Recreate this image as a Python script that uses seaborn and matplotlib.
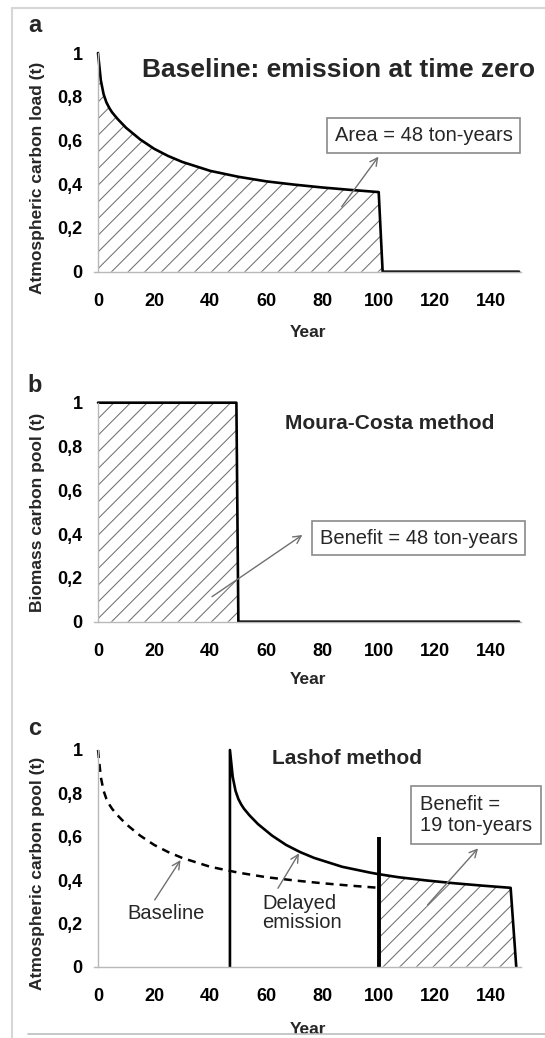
import matplotlib
matplotlib.use("Agg")
import matplotlib.pyplot as plt
import seaborn as sns
import numpy as np
from matplotlib.lines import Line2D

# ---------------- data ----------------
x_ticks = [0, 20, 40, 60, 80, 100, 120, 140]
y_ticks = [0, 0.2, 0.4, 0.6, 0.8, 1.0]
y_tick_labels = ["0", "0,2", "0,4", "0,6", "0,8", "1"]

# (a) baseline: emission at time zero
base_years = [0, 1, 2, 3, 4, 5, 7, 10, 15, 20, 25, 30, 40, 50, 60, 70, 80, 90, 100]
base_load = [1.0, 0.875, 0.811, 0.774, 0.749, 0.729, 0.698, 0.658, 0.605, 0.562,
             0.529, 0.502, 0.461, 0.434, 0.413, 0.398, 0.385, 0.374, 0.364]
base_tail_years = [101.4, 150]
base_tail_load = [0, 0]

# (b) Moura-Costa: biomass pool
biomass_years = [0, 49.3, 50, 150]
biomass_pool = [1, 1, 0, 0]

# (c) Lashof: delayed emission
delayed_years = [47, 47, 48, 49, 50, 51, 52, 54, 57, 62, 67, 72, 77, 87, 97, 100,
                 107, 117, 127, 137, 147, 149]
delayed_pool = [0, 1.0, 0.875, 0.811, 0.774, 0.749, 0.729, 0.698, 0.658, 0.605,
                0.562, 0.529, 0.502, 0.461, 0.434, 0.427, 0.413, 0.398, 0.385,
                0.374, 0.364, 0]
cutoff_year = 100
cutoff_height = 0.6

# ---------------- style ----------------
sns.set_style("white")
plt.rcParams["font.family"] = ["Liberation Sans", "DejaVu Sans"]
plt.rcParams["hatch.color"] = "#707070"
plt.rcParams["hatch.linewidth"] = 0.75

W, H = 545, 1038
fig = plt.figure(figsize=(W / 100, H / 100), dpi=100)

left = 93.8 / W
width = 427.5 / W
ax_a = fig.add_axes([left, 1 - 271.7 / H, width, 218.7 / H])
ax_b = fig.add_axes([left, 1 - 621.7 / H, width, 219.0 / H])
ax_c = fig.add_axes([left, 1 - 966.7 / H, width, 216.7 / H])

AXIS_GRAY = "#b8b8b8"
BOX_EDGE = "#8a8a8a"
ARROW_GRAY = "#707070"
HATCH_GRAY = "#707070"
LW = 1.9
TICK_FS = 13


def style_axis(ax, ylabel, ylab_y, xlab_y):
    ax.set_xlim(-1.5, 150.8)
    ax.set_ylim(0, 1)
    sns.despine(ax=ax)
    for s in ("left", "bottom"):
        ax.spines[s].set_color(AXIS_GRAY)
        ax.spines[s].set_linewidth(1.0)
    ax.spines["left"].set_position(("data", 0))
    ax.set_xticks(x_ticks)
    ax.set_xticklabels([str(t) for t in x_ticks], fontweight="bold")
    ax.set_yticks(y_ticks)
    ax.set_yticklabels(y_tick_labels, fontweight="bold")
    ax.tick_params(axis="x", length=3, width=1, color=AXIS_GRAY, pad=12,
                   labelsize=TICK_FS, labelcolor="black")
    ax.tick_params(axis="y", length=3, width=1, color=AXIS_GRAY, pad=8,
                   labelsize=TICK_FS, labelcolor="black")
    ax.set_ylabel(ylabel, fontsize=12.5, fontweight="bold")
    ax.yaxis.set_label_coords(-0.114, ylab_y)
    ax.set_xlabel("Year", fontsize=12.5, fontweight="bold")
    ax.xaxis.set_label_coords(0.5, xlab_y)
    ax.patch.set_alpha(0)


def arrow(ax, tail, head):
    ax.annotate("", xy=head, xytext=tail,
                arrowprops=dict(arrowstyle="->,head_length=0.55,head_width=0.28",
                                color=ARROW_GRAY, lw=1.0, shrinkA=0, shrinkB=0))


box_kw = dict(boxstyle="square,pad=0.38", fc="white", ec=BOX_EDGE, lw=1.2)

# ---------------- panel a ----------------
a_x = base_years + base_tail_years
a_y = base_load + base_tail_load
ax_a.fill_between(a_x[:-1], a_y[:-1], 0, facecolor="none", edgecolor=HATCH_GRAY,
                  hatch="//", linewidth=0)
sns.lineplot(x=a_x, y=a_y, ax=ax_a, sort=False, estimator=None, color="black",
             lw=LW, clip_on=False)
style_axis(ax_a, "Atmospheric carbon load (t)", 0.428, -0.244)
ax_a.text(15.6, 0.922, "Baseline: emission at time zero", ha="left", va="center",
          fontsize=19, fontweight="bold")
ax_a.text(116.0, 0.623, "Area = 48 ton-years", ha="center", va="center",
          fontsize=14.5, bbox=box_kw)
arrow(ax_a, (86.8, 0.297), (99.9, 0.526))

# ---------------- panel b ----------------
ax_b.fill_between(biomass_years[:3], biomass_pool[:3], 0, facecolor="none",
                  edgecolor=HATCH_GRAY, hatch="//", linewidth=0)
sns.lineplot(x=biomass_years, y=biomass_pool, ax=ax_b, sort=False, estimator=None,
             color="black", lw=LW, clip_on=False)
style_axis(ax_b, "Biomass carbon pool (t)", 0.5, -0.23)
ax_b.text(66.6, 0.907, "Moura-Costa method", ha="left", va="center",
          fontsize=15, fontweight="bold")
ax_b.text(114.2, 0.382, "Benefit = 48 ton-years", ha="center", va="center",
          fontsize=14.5, bbox=box_kw)
arrow(ax_b, (40.6, 0.114), (72.8, 0.396))

# ---------------- panel c ----------------
dy = np.array(delayed_years, dtype=float)
dp = np.array(delayed_pool, dtype=float)
mask = dy >= cutoff_year
ax_c.fill_between(dy[mask], dp[mask], 0, facecolor="none", edgecolor=HATCH_GRAY,
                  hatch="//", linewidth=0)
sns.lineplot(x=base_years, y=base_load, ax=ax_c, sort=False, estimator=None,
             color="black", lw=1.8, linestyle="--", clip_on=False)
ax_c.lines[-1].set_dashes([3.2, 2.4])
sns.lineplot(x=delayed_years, y=delayed_pool, ax=ax_c, sort=False, estimator=None,
             color="black", lw=LW, clip_on=False)
ax_c.vlines(cutoff_year, 0, cutoff_height, color="black", lw=2.8)
style_axis(ax_c, "Atmospheric carbon pool (t)", 0.432, -0.255)
ax_c.text(62, 0.962, "Lashof method", ha="left", va="center",
          fontsize=15, fontweight="bold")
ax_c.text(114.7, 0.70, "Benefit =\n19 ton-years", ha="left", va="center",
          fontsize=14.5, linespacing=1.1,
          bbox=dict(boxstyle="square,pad=0.45", fc="white", ec=BOX_EDGE, lw=1.2))
arrow(ax_c, (117.4, 0.285), (135.4, 0.546))
ax_c.text(24.3, 0.246, "Baseline", ha="center", va="center", fontsize=14.5)
arrow(ax_c, (20.2, 0.308), (29.4, 0.492))
ax_c.text(58.6, 0.248, "Delayed\nemission", ha="left", va="center", fontsize=14.5,
          linespacing=1.05)
arrow(ax_c, (64.1, 0.362), (71.6, 0.523))

# ---------------- panel letters & frame ----------------
for letter, base in (("a", 32), ("b", 392), ("c", 735)):
    fig.text(35 / W, 1 - base / H, letter, ha="center", va="baseline",
             fontsize=17, fontweight="bold")

frame_c = "#d6d6d6"
fig.add_artist(Line2D([12 / W, 12 / W], [0, 1 - 8 / H], transform=fig.transFigure,
                      color=frame_c, lw=1.5))
fig.add_artist(Line2D([12 / W, 1], [1 - 8 / H, 1 - 8 / H], transform=fig.transFigure,
                      color=frame_c, lw=1.5))
fig.add_artist(Line2D([28 / W, 1], [1 - 1034 / H, 1 - 1034 / H],
                      transform=fig.transFigure, color="#bdbdbd", lw=1.2))

fig.savefig("out.png", dpi=100)
